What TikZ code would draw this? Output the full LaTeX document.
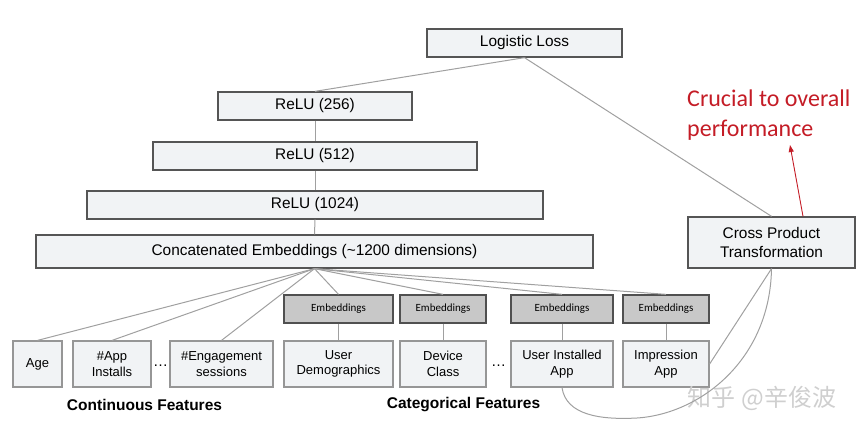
\documentclass[tikz,border=0pt]{standalone}
\usepackage{fontspec}
\setmainfont{Liberation Sans}
\newfontfamily\calib{Carlito}
\newfontfamily\cjk{Noto Sans CJK SC}
\usetikzlibrary{arrows.meta}
\definecolor{boxfill}{RGB}{241,243,245}
\definecolor{boxline}{RGB}{85,85,85}
\definecolor{featline}{RGB}{150,150,150}
\definecolor{embfill}{RGB}{200,200,200}
\definecolor{embline}{RGB}{80,80,80}
\definecolor{connc}{RGB}{160,160,160}
\definecolor{crimson}{RGB}{196,28,38}
\begin{document}
\begin{tikzpicture}[x=1pt,y=-1pt,
  layer/.style={draw=boxline, fill=boxfill, line width=1.3pt, inner sep=0pt, align=center, font=\fontsize{15.4}{19}\selectfont},
  feat/.style={draw=featline, fill=boxfill, line width=1.2pt, inner sep=0pt, align=center, minimum height=46pt, font=\fontsize{13}{15.5}\selectfont},
  emb/.style={draw=embline, fill=embfill, line width=1.3pt, inner sep=0pt, minimum height=28pt, font=\calib\fontsize{11}{12}\selectfont},
  conn/.style={draw=connc, line width=1pt},
  grouplabel/.style={inner sep=0pt, font=\bfseries\fontsize{15.5}{18}\selectfont},
  dotsnode/.style={inner sep=0pt, anchor=base, font=\fontsize{15}{15}\selectfont}]
\useasboundingbox (0,0) rectangle (864,433);

% layers
\node[layer, minimum width=195pt, minimum height=28pt] (loss) at (524.5,43) {Logistic Loss};
\node[layer, minimum width=194pt, minimum height=28pt] (r256) at (315,106) {ReLU (256)};
\node[layer, minimum width=324pt, minimum height=28pt] (r512) at (315,156) {ReLU (512)};
\node[layer, minimum width=456pt, minimum height=28pt] (r1024) at (315,205) {ReLU (1024)};
\node[layer, minimum width=557pt, minimum height=33pt] (concat) at (314.5,251.5) {Concatenated Embeddings (\textasciitilde1200 dimensions)};
\node[layer, minimum width=167pt, minimum height=51pt] (cross) at (771.5,242.5) {Cross Product\\Transformation};

% features
\node[feat, minimum width=49pt] (age) at (37.5,364) {Age};
\node[feat, minimum width=78pt] (app) at (112,364) {\#App\\Installs};
\node[feat, minimum width=103pt] (eng) at (221.5,364) {\#Engagement\\sessions};
\node[feat, minimum width=109pt] (udem) at (338.5,364) {User\\Demographics};
\node[feat, minimum width=86pt] (dev) at (443,364) {Device\\Class};
\node[feat, minimum width=102pt] (uia) at (562,364) {User Installed\\App};
\node[feat, minimum width=86pt] (imp) at (666,364) {Impression\\App};

% embeddings
\node[emb, minimum width=109pt] (ud) at (338.5,309) {Embeddings};
\node[emb, minimum width=86pt] (dv) at (443,309) {Embeddings};
\node[emb, minimum width=102pt] (ua) at (562,309) {Embeddings};
\node[emb, minimum width=86pt] (im) at (666,309) {Embeddings};

% dots
\node[dotsnode] (dots1) at (160.5,366) {\ldots};
\node[dotsnode] (dots2) at (498.5,366) {\ldots};

% group labels
\node[grouplabel] (contlab) at (144.5,405) {Continuous Features};
\node[grouplabel] (catlab) at (463.5,405) {Categorical Features};

% red annotation
\node[text=crimson, font=\calib\fontsize{24}{30}\selectfont, align=left, anchor=north west, inner sep=0pt] (crucial) at (687,90) {Crucial to overall\\performance};
\coordinate (tip) at (790,145);
\draw[crimson, line width=0.9pt, -{Triangle[length=7pt,width=5pt]}] ([xshift=31.5pt]cross.north) -- (tip);

% watermark
\node[text=gray!38, font=\cjk\fontsize{24}{24}\selectfont, inner sep=0pt] (wm) at (762,398) {知乎 @辛俊波};

% connectors
\draw[conn] (loss.south) -- (r256.north);
\draw[conn] (loss.south) -- (cross.north);
\draw[conn] (r256.south) -- (r512.north);
\draw[conn] (r512.south) -- (r1024.north);
\draw[conn] (r1024.south) -- (concat.north);
\foreach \n in {age,app,eng,ud,dv,ua,im} \draw[conn] (concat.south) -- (\n.north);
\draw[conn] (ud.south) -- (udem.north);
\draw[conn] (dv.south) -- (dev.north);
\draw[conn] (ua.south) -- (uia.north);
\draw[conn] (im.south) -- (imp.north);
\draw[conn] (cross.south) -- (imp.east);
\coordinate (dip) at (637,418);
\draw[conn] (uia.south) .. controls (566,415) and (600,420) .. (dip) .. controls (700,414) and (770,360) .. (cross.south);
\end{tikzpicture}
\end{document}
